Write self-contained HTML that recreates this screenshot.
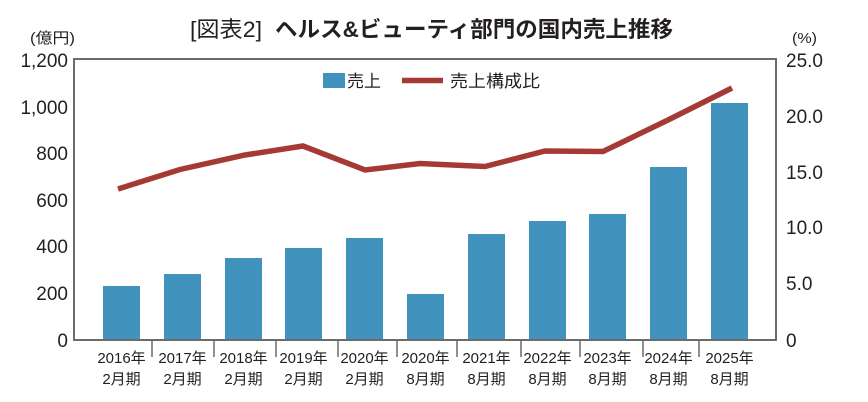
<!DOCTYPE html>
<html>
<head>
<meta charset="utf-8">
<style>
html,body{margin:0;padding:0;background:#fff;}
svg{display:block;}
text{font-family:"Liberation Sans","Noto Sans CJK JP",sans-serif;fill:#231f20;}
</style>
</head>
<body>
<svg width="868" height="402" viewBox="0 0 868 402" xmlns="http://www.w3.org/2000/svg">
  <!-- Title -->
  <text x="190" y="37" font-size="22" textLength="72" lengthAdjust="spacingAndGlyphs">[図表2]</text>
  <text x="275" y="37" font-size="22" font-weight="700" textLength="398" lengthAdjust="spacingAndGlyphs">ヘルス&amp;ビューティ部門の国内売上推移</text>

  <!-- Unit labels -->
  <text x="30" y="43" font-size="15" textLength="45" lengthAdjust="spacingAndGlyphs">(億円)</text>
  <text x="792" y="43" font-size="15" textLength="25" lengthAdjust="spacingAndGlyphs">(%)</text>

  <!-- Bars -->
  <g fill="#4292be">
    <rect x="103" y="286" width="37" height="54"/>
    <rect x="164" y="274" width="37" height="66"/>
    <rect x="225" y="258" width="37" height="82"/>
    <rect x="285" y="248" width="37" height="92"/>
    <rect x="346" y="238" width="37" height="102"/>
    <rect x="407" y="294" width="37" height="46"/>
    <rect x="468" y="234" width="37" height="106"/>
    <rect x="529" y="221" width="37" height="119"/>
    <rect x="589" y="214" width="37" height="126"/>
    <rect x="650" y="167" width="37" height="173"/>
    <rect x="711" y="103" width="37" height="237"/>
  </g>

  <!-- Frame -->
  <rect x="74" y="59" width="702" height="281" fill="none" stroke="#6b6b6b" stroke-width="2"/>

  <!-- X ticks -->
  <g stroke="#6b6b6b" stroke-width="1.5">
    <line x1="152" y1="340" x2="152" y2="357"/>
    <line x1="214" y1="340" x2="214" y2="357"/>
    <line x1="276" y1="340" x2="276" y2="357"/>
    <line x1="338" y1="340" x2="338" y2="357"/>
    <line x1="397" y1="340" x2="397" y2="357"/>
    <line x1="457" y1="340" x2="457" y2="357"/>
    <line x1="521" y1="340" x2="521" y2="357"/>
    <line x1="580" y1="340" x2="580" y2="357"/>
    <line x1="643" y1="340" x2="643" y2="357"/>
    <line x1="699" y1="340" x2="699" y2="357"/>
  </g>

  <!-- Line series -->
  <polyline points="118,189 180,169.5 245,155 303,146 365,170 420,163.5 485,166.5 545,151 603,151.5 668,120 732,88"
    fill="none" stroke="#a53a35" stroke-width="5.5" stroke-linejoin="miter"/>

  <!-- Legend -->
  <rect x="323" y="73" width="22" height="15" fill="#4292be"/>
  <text x="347" y="87" font-size="17">売上</text>
  <line x1="402" y1="80.5" x2="443" y2="80.5" stroke="#a53a35" stroke-width="5.5"/>
  <text x="450" y="87" font-size="17" textLength="90" lengthAdjust="spacingAndGlyphs">売上構成比</text>

  <!-- Left axis labels -->
  <g font-size="19" text-anchor="end">
    <text x="68" y="67">1,200</text>
    <text x="68" y="114">1,000</text>
    <text x="68" y="160">800</text>
    <text x="68" y="207">600</text>
    <text x="68" y="253">400</text>
    <text x="68" y="300">200</text>
    <text x="68" y="347">0</text>
  </g>

  <!-- Right axis labels -->
  <g font-size="19">
    <text x="786" y="67">25.0</text>
    <text x="786" y="123">20.0</text>
    <text x="786" y="179">15.0</text>
    <text x="786" y="234">10.0</text>
    <text x="786" y="290">5.0</text>
    <text x="786" y="347">0</text>
  </g>

  <!-- X labels -->
  <g font-size="15" text-anchor="middle">
    <text x="121.5" y="363">2016年</text><text x="121.5" y="384">2月期</text>
    <text x="182.5" y="363">2017年</text><text x="182.5" y="384">2月期</text>
    <text x="243.5" y="363">2018年</text><text x="243.5" y="384">2月期</text>
    <text x="303.5" y="363">2019年</text><text x="303.5" y="384">2月期</text>
    <text x="364.5" y="363">2020年</text><text x="364.5" y="384">2月期</text>
    <text x="425.5" y="363">2020年</text><text x="425.5" y="384">8月期</text>
    <text x="486.5" y="363">2021年</text><text x="486.5" y="384">8月期</text>
    <text x="547.5" y="363">2022年</text><text x="547.5" y="384">8月期</text>
    <text x="607.5" y="363">2023年</text><text x="607.5" y="384">8月期</text>
    <text x="668.5" y="363">2024年</text><text x="668.5" y="384">8月期</text>
    <text x="729.5" y="363">2025年</text><text x="729.5" y="384">8月期</text>
  </g>
</svg>
</body>
</html>
